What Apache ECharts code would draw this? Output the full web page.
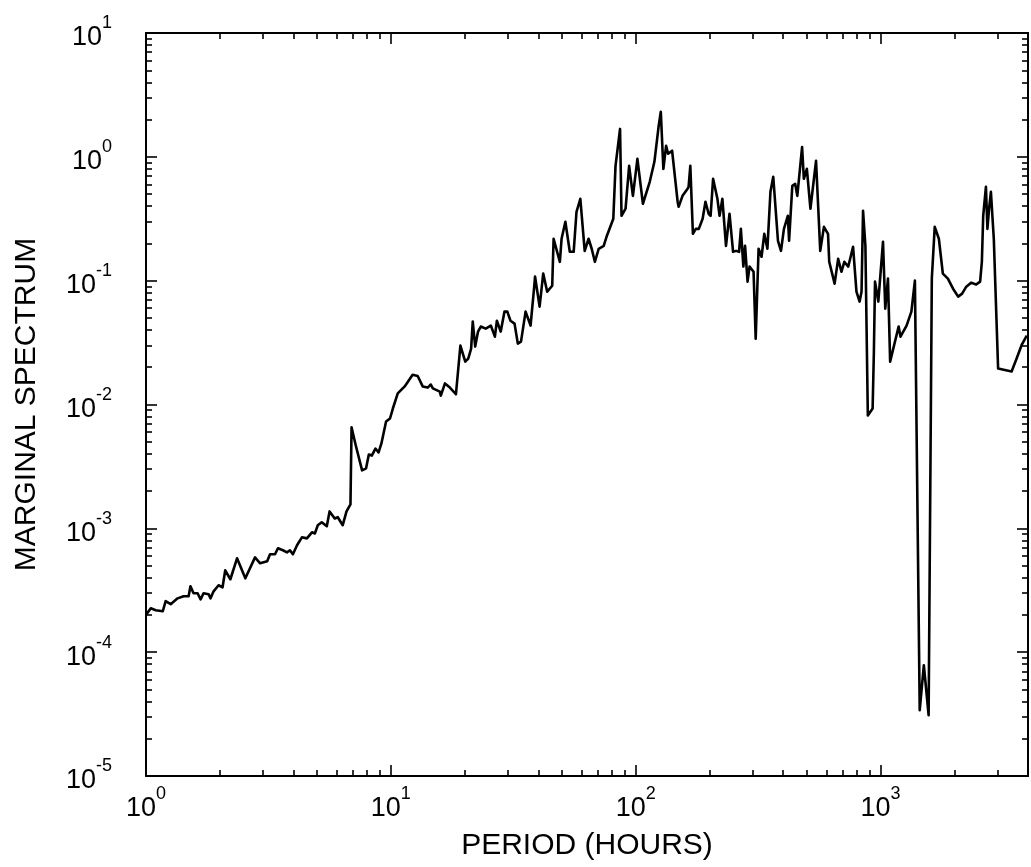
<!DOCTYPE html>
<html>
<head>
<meta charset="utf-8">
<script src="https://cdn.jsdelivr.net/npm/echarts@6/dist/echarts.min.js"></script>
<style>
  html, body { margin: 0; padding: 0; background: #fff; }
  #chart { width: 1031px; height: 867px; }
</style>
</head>
<body>
<div id="chart"></div>
<script>
// ---- data ----
const periods = [1.0,1.046,1.096,1.171,1.203,1.261,1.346,1.424,1.493,1.519,1.564,1.624,1.671,1.718,1.801,1.835,1.888,1.979,2.054,2.107,2.211,2.354,2.545,2.788,2.925,3.125,3.21,3.365,3.458,3.624,3.763,3.871,3.981,4.138,4.332,4.541,4.76,4.897,5.03,5.22,5.475,5.62,5.9,6.07,6.36,6.59,6.84,6.91,7.19,7.63,7.92,8.13,8.36,8.65,8.91,9.15,9.56,9.92,10.19,10.67,11.39,12.27,12.87,13.49,14.14,
14.56,14.84,15.85,16.0,16.63,17.42,18.44,19.23,20.13,20.7,21.27,21.6,22.1,22.7,23.3,24.4,25.6,26.6,27.1,28.1,29.1,29.9,30.8,32.0,33.0,34.0,35.5,37.2,38.5,38.8,40.5,41.9,43.5,45.6,46.2,49.0,49.8,51.6,53.8,55.8,57.3,59.4,61.9,64.2,66.1,68.1,70.6,74.0,76.0,77.4,81.0,82.7,86.3,87.5,90.9,94.0,97.4,101.6,107,114.1,119.2,124.1,126.6,129.7,133.1,135.6,140.8,148.3,149.7,155.3,162.9,164.4,167.1,171.2,175.9,181,187.6,192.7,198.5,202.2,207,215.6,220,225.9,233.7,241.6,249.8,257,264.3,268.8,275.2,279.6,286.3,291.7,302.9,309,317.5,326.5,335,345,355,364.5,381,392,403,418,423,436,448,457,478,486,500,517,545,567,587,610,617,649,671,692,711,738,772,797,821,836,848,867,887,928,939,949,979,1023,1045,1072,1094,1185,1206,1277,1336,1381,1445,1502,1571,1619,1664,1730,1796,1883,1977,2074,2153,2239,2342,2456,2550,2592,2625,2693,2731,2774,2822,2900,3020,3428,3594,3775,3954];

const spectrum = [2.0e-4,2.26e-4,2.18e-4,2.14e-4,2.58e-4,2.44e-4,2.72e-4,2.83e-4,2.83e-4,3.40e-4,2.99e-4,2.99e-4,2.67e-4,2.99e-4,2.94e-4,2.72e-4,3.10e-4,3.47e-4,3.34e-4,4.58e-4,3.88e-4,5.73e-4,3.95e-4,5.83e-4,5.22e-4,5.42e-4,6.17e-4,6.17e-4,6.90e-4,6.65e-4,6.40e-4,6.65e-4,6.17e-4,7.30e-4,8.46e-4,8.30e-4,9.28e-4,9.1e-4,1.06e-3,1.12e-3,1.04e-3,1.37e-3,1.20e-3,1.23e-3,1.06e-3,1.37e-3,1.56e-3,6.53e-3,4.67e-3,2.94e-3,3.05e-3,3.95e-3,3.87e-3,4.41e-3,4.10e-3,4.85e-3,7.29e-3,7.71e-3,9.28e-3,1.23e-2,1.40e-2,1.74e-2,1.70e-2,1.40e-2,1.37e-2,
1.45e-2,1.35e-2,1.27e-2,1.18e-2,1.48e-2,1.37e-2,1.21e-2,2.99e-2,2.22e-2,2.35e-2,2.83e-2,4.67e-2,2.94e-2,3.88e-2,4.26e-2,4.10e-2,4.34e-2,3.53e-2,4.75e-2,3.88e-2,5.62e-2,5.62e-2,4.75e-2,4.50e-2,3.10e-2,3.22e-2,5.62e-2,4.34e-2,8.95e-2,0.108,6.17e-2,0.114,8.15e-2,9.1e-2,0.218,0.142,0.218,0.299,0.171,0.171,0.36,0.458,0.174,0.218,0.181,0.142,0.181,0.191,0.226,0.218,0.316,0.845,1.68,0.334,0.381,0.845,0.484,0.964,0.418,0.629,0.912,1.78,2.31,0.80,1.23,1.06,1.12,0.434,0.395,0.484,0.552,0.573,0.845,0.239,0.262,0.262,0.316,0.434,0.347,0.334,0.665,0.458,0.334,0.458,0.191,0.347,0.171,0.174,0.171,0.262,0.130,0.191,0.0983,0.130,0.118,0.034,0.181,0.156,0.239,0.181,0.522,0.690,0.210,0.174,0.262,0.334,0.210,0.583,0.605,0.484,1.20,0.665,0.80,0.381,0.929,0.174,0.272,0.239,0.142,0.0946,0.150,0.118,0.142,0.130,0.188,0.0815,0.0678,0.0815,0.367,0.191,0.00815,0.00928,0.0267,0.0983,0.0678,0.206,0.0594,0.104,0.0222,0.0426,0.0353,0.0434,0.0562,0.10,3.4e-5,7.85e-5,3.1e-5,0.104,0.272,0.218,0.114,0.104,0.0861,0.0743,0.0786,0.0895,0.0964,0.093,0.0983,0.142,0.334,0.573,0.262,0.381,0.522,0.218,0.0195,0.0185,0.0235,0.0305,0.036];

// tick values
const xMajorTicks = [1, 10, 100, 1000];
const xMinorTicks = [2,3,4,5,6,7,8,9,20,30,40,50,60,70,80,90,200,300,400,500,600,700,800,900,2000,3000];
const yMajorTicks = [1e-5, 1e-4, 1e-3, 1e-2, 1e-1, 1, 10];
const yMinorTicks = [];
[1e-5, 1e-4, 1e-3, 1e-2, 1e-1, 1].forEach(function (d) {
  for (let k = 2; k <= 9; k++) yMinorTicks.push(+(k * d).toPrecision(3));
});
const xTitle = 'PERIOD (HOURS)';
const yTitle = 'MARGINAL SPECTRUM';

// ---- chart ----
const FONT = '"Liberation Sans", Arial, Helvetica, sans-serif';
const pairs = periods.map(function (p, i) { return [p, spectrum[i]]; });

function powLabel(v) {
  const e = Math.round(Math.log10(v));
  return '{b|10}{s|' + (e < 0 ? '-' + (-e) : e) + '}';
}
const rich = {
  b: { fontSize: 27, fontFamily: FONT, color: '#000', lineHeight: 37, verticalAlign: 'bottom' },
  s: { fontSize: 18, fontFamily: FONT, color: '#000', lineHeight: 18, verticalAlign: 'top' }
};

function xAx(pos, ticks, len, labels) {
  const a = {
    type: 'log', logBase: 10, min: 1, max: 4000, position: pos,
    axisLine: { show: labels || pos === 'top', onZero: false, lineStyle: { color: '#000', width: 2 } },
    axisTick: { show: true, inside: true, length: len, customValues: ticks, lineStyle: { color: '#000', width: 1.6 } },
    axisLabel: { show: false },
    splitLine: { show: false }, minorTick: { show: false }, minorSplitLine: { show: false }
  };
  if (labels) {
    a.axisLabel = { show: true, customValues: ticks, margin: 9, formatter: powLabel, rich: rich };
    a.name = xTitle; a.nameLocation = 'middle'; a.nameGap = 55;
    a.nameTextStyle = { fontSize: 30, fontFamily: FONT, color: '#000' };
  }
  return a;
}
function yAx(pos, ticks, len, labels) {
  const a = {
    type: 'log', logBase: 10, min: 1e-5, max: 10, position: pos,
    axisLine: { show: labels || pos === 'right', onZero: false, lineStyle: { color: '#000', width: 2 } },
    axisTick: { show: true, inside: true, length: len, customValues: ticks, lineStyle: { color: '#000', width: 1.6 } },
    axisLabel: { show: false },
    splitLine: { show: false }, minorTick: { show: false }, minorSplitLine: { show: false }
  };
  if (labels) {
    a.axisLabel = { show: true, customValues: ticks, margin: 34, formatter: powLabel, rich: rich, align: 'right' };
    a.name = yTitle; a.nameLocation = 'middle'; a.nameGap = 104;
    a.nameTextStyle = { fontSize: 30, fontFamily: FONT, color: '#000' };
  }
  return a;
}

const chart = echarts.init(document.getElementById('chart'), null, { renderer: 'canvas' });
chart.setOption({
  animation: false,
  backgroundColor: '#fff',
  grid: { left: 146, right: 3, top: 33, bottom: 91, containLabel: false },
  xAxis: [
    xAx('bottom', xMajorTicks, 11, true),
    xAx('bottom', xMinorTicks, 6, false),
    xAx('top', xMajorTicks, 11, false),
    xAx('top', xMinorTicks, 6, false)
  ],
  yAxis: [
    yAx('left', yMajorTicks, 11, true),
    yAx('left', yMinorTicks, 6, false),
    yAx('right', yMajorTicks, 11, false),
    yAx('right', yMinorTicks, 6, false)
  ],
  series: [{
    type: 'line', xAxisIndex: 0, yAxisIndex: 0,
    data: pairs, showSymbol: false, symbol: 'none',
    lineStyle: { color: '#000', width: 2.6, join: 'round' },
    clip: true
  }]
});
</script>
</body>
</html>
